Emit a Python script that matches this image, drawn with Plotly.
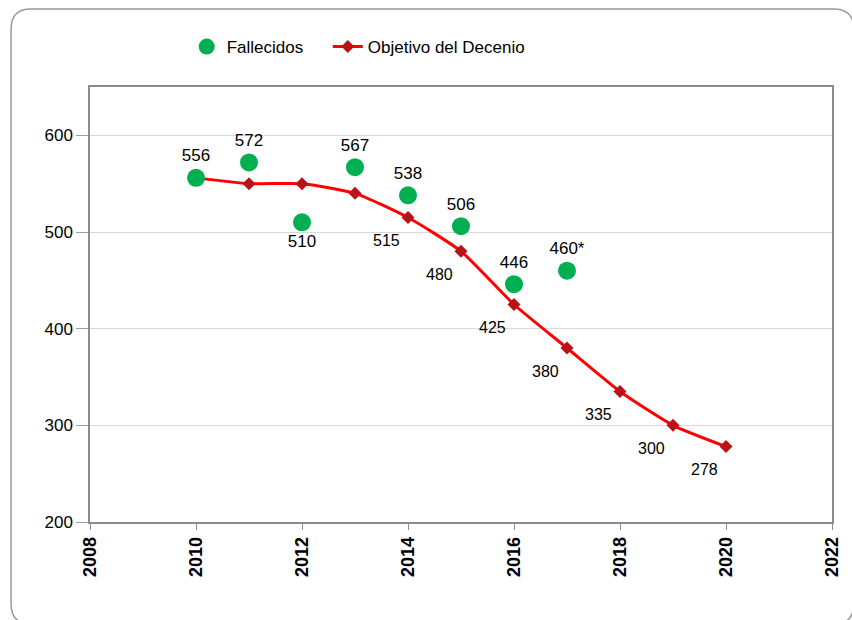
import plotly.graph_objects as go

years_fall = [2010, 2011, 2012, 2013, 2014, 2015, 2016, 2017]
fallecidos = [556, 572, 510, 567, 538, 506, 446, 460]
fall_labels = ["556", "572", "510", "567", "538", "506", "446", "460*"]
fall_pos = ["top center", "top center", "bottom center", "top center",
            "top center", "top center", "top center", "top center"]

years_obj = [2010, 2011, 2012, 2013, 2014, 2015, 2016, 2017, 2018, 2019, 2020]
objetivo = [556, 550, 550, 540, 515, 480, 425, 380, 335, 300, 278]
obj_labels = ["", "", "", "", "515", "480", "425", "380", "335", "300", "278"]

FONT = "Liberation Sans, Arial, sans-serif"

fig = go.Figure()
fig.add_trace(go.Scatter(
    x=years_obj, y=objetivo, mode="lines+markers", name="Objetivo del Decenio",
    line=dict(color="#FF0000", width=3, shape="spline", smoothing=0.55),
    marker=dict(symbol="diamond", size=10, color="#B81418"),
    legend="legend2",
))
fig.add_trace(go.Scatter(
    x=years_fall, y=fallecidos, mode="markers+text", name="Fallecidos",
    marker=dict(symbol="circle", size=18, color="#00B050"),
    text=fall_labels, textposition=fall_pos,
    textfont=dict(family=FONT, size=17, color="#000000"),
    legend="legend",
))

for xv, yv, lab in zip(years_obj, objetivo, obj_labels):
    if lab:
        fig.add_annotation(x=xv, y=yv, text=lab, showarrow=False,
                           xshift=-22, yshift=-23,
                           font=dict(family=FONT, size=16, color="#000000"))

# outer rounded border, pixel -> paper conversion
L, R, T, B = 90, 842, 87, 522
W, H = R - L, B - T
def px(x):
    return (x - L) / W
def py(y):
    return (B - y) / H
x0, x1, y0, y1, r = 10, 864, 9, 624, 20
path = (f"M {px(x0 + r)},{py(y0)} L {px(x1 - r)},{py(y0)} "
        f"Q {px(x1)},{py(y0)} {px(x1)},{py(y0 + r)} "
        f"L {px(x1)},{py(y1 - r)} Q {px(x1)},{py(y1)} {px(x1 - r)},{py(y1)} "
        f"L {px(x0 + r)},{py(y1)} Q {px(x0)},{py(y1)} {px(x0)},{py(y1 - r)} "
        f"L {px(x0)},{py(y0 + r)} Q {px(x0)},{py(y0)} {px(x0 + r)},{py(y0)} Z")
fig.add_shape(type="path", path=path, xref="paper", yref="paper",
              line=dict(color="#9A9A9A", width=1.5), layer="below")

leg_common = dict(orientation="h", xanchor="left", yanchor="middle",
                  font=dict(size=17), itemwidth=30, bgcolor="rgba(0,0,0,0)")
fig.update_layout(
    width=852, height=620,
    margin=dict(l=L, r=852 - R, t=T, b=620 - B),
    paper_bgcolor="white", plot_bgcolor="white",
    font=dict(family=FONT, size=17, color="#000000"),
    showlegend=True,
    legend=dict(x=px(188), y=py(47), **leg_common),
    legend2=dict(x=px(331), y=py(47), **leg_common),
)
fig.update_xaxes(range=[2008, 2022], dtick=2, tick0=2008, tickangle=-90,
                 tickfont=dict(family=FONT, size=18, color="#000000", weight="bold"),
                 showgrid=False, zeroline=False,
                 showline=True, linecolor="#8C8C8C", linewidth=1.5, mirror=True,
                 ticks="outside", ticklen=6, tickcolor="#8C8C8C")
fig.update_yaxes(range=[200, 650], tickvals=[200, 300, 400, 500, 600],
                 tickfont=dict(family=FONT, size=17, color="#000000"),
                 showgrid=True, gridcolor="#D9D9D9", gridwidth=1, zeroline=False,
                 showline=True, linecolor="#8C8C8C", linewidth=1.5, mirror=True,
                 ticks="outside", ticklen=12, tickcolor="#A0A0A0")

fig.write_html("out.html", config={"displayModeBar": False},
               post_script="document.body.style.margin='0';document.body.style.overflow='hidden';")
